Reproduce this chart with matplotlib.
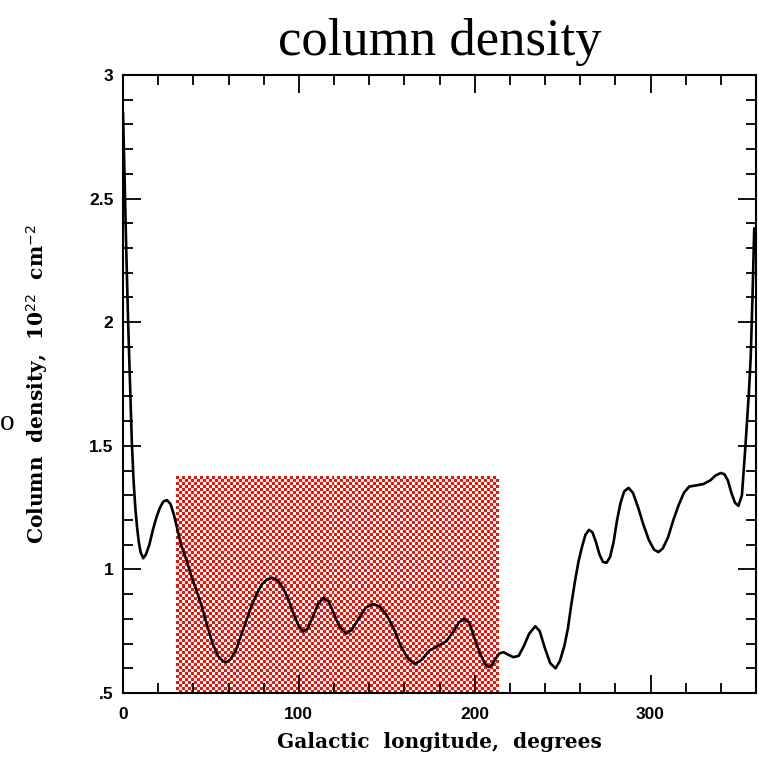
import numpy as np
import matplotlib
matplotlib.use("Agg")
import matplotlib.pyplot as plt
from matplotlib.ticker import MultipleLocator

# ---- data ----
longitude = [0, 1, 2, 3, 4, 5, 6, 7, 8, 9, 10, 11.5, 13, 15, 17, 19, 21, 23, 25, 27, 29, 31, 33,
             36, 39, 42, 45, 48, 51, 54, 57, 59, 61, 64, 67, 70, 73, 76, 79, 82, 85, 88, 91, 94,
             97, 100, 102.5, 105, 108, 111, 114, 117, 120, 123, 127, 130, 134, 138, 142, 146,
             150, 154, 158, 162, 166, 170, 174, 179, 184, 188, 191, 194, 197, 200, 203, 206,
             208, 210, 212, 214, 216.5, 219, 222, 225, 228, 231, 234.5, 237, 240, 243, 246,
             248.5, 251, 253, 255, 257, 259, 261, 263, 265, 267, 269, 271, 273, 275, 277, 279,
             281, 283, 285, 287.5, 290, 293, 296, 299, 302, 304.5, 307, 310, 313, 316, 319, 322,
             326, 330, 334, 337, 340, 342, 344, 346, 348, 350, 352, 354, 356, 357, 358, 359]
column_density = [2.85, 2.55, 2.25, 1.98, 1.75, 1.52, 1.36, 1.25, 1.17, 1.11, 1.07, 1.045, 1.06,
                  1.10, 1.16, 1.21, 1.25, 1.275, 1.28, 1.265, 1.22, 1.16, 1.10,
                  1.04, 0.97, 0.91, 0.845, 0.77, 0.70, 0.65, 0.628, 0.625, 0.635, 0.67, 0.73,
                  0.79, 0.85, 0.90, 0.94, 0.96, 0.966, 0.955, 0.925, 0.88,
                  0.82, 0.77, 0.748, 0.76, 0.81, 0.86, 0.885, 0.87, 0.82, 0.77, 0.74, 0.755,
                  0.80, 0.845, 0.86, 0.85,
                  0.815, 0.76, 0.69, 0.64, 0.617, 0.635, 0.67, 0.69, 0.71, 0.75, 0.785, 0.80,
                  0.785, 0.72, 0.66, 0.617,
                  0.605, 0.615, 0.64, 0.66, 0.665, 0.655, 0.645, 0.65, 0.69, 0.74, 0.77, 0.75,
                  0.68, 0.62, 0.60,
                  0.63, 0.69, 0.76, 0.86, 0.95, 1.03, 1.09, 1.14, 1.16, 1.15, 1.11, 1.06, 1.03,
                  1.027, 1.05, 1.11,
                  1.20, 1.27, 1.315, 1.33, 1.31, 1.25, 1.18, 1.12, 1.08, 1.07, 1.085, 1.13, 1.20,
                  1.26, 1.31, 1.335,
                  1.34, 1.345, 1.36, 1.38, 1.39, 1.385, 1.36, 1.31, 1.27, 1.257, 1.30, 1.50, 1.72,
                  1.86, 2.1, 2.38]

highlight_lon = [30, 213.5]
highlight_top = 1.375

xtick_values = [0, 100, 200, 300]
xtick_labels = ["0", "100", "200", "300"]
ytick_values = [0.5, 1.0, 1.5, 2.0, 2.5, 3.0]
ytick_labels = [".5", "1", "1.5", "2", "2.5", "3"]

title_text = "column density"
xlabel_text = "Galactic  longitude,  degrees"
ylabel_text = r"Column  density,  10$^{22}$  cm$^{-2}$"

# ---- figure ----
W, H, DPI = 759, 762, 100
fig = plt.figure(figsize=(W / DPI, H / DPI), dpi=DPI)
ax = fig.add_axes([123 / W, 1 - 693 / H, (756 - 123) / W, (693 - 75) / H])

ax.set_xlim(0, 360)
ax.set_ylim(0.5, 3.0)

# checkered red highlight box
cell = 3
rect_w_px = (highlight_lon[1] - highlight_lon[0]) / 360 * (756 - 123)
rect_h_px = (highlight_top - 0.5) / 2.5 * (693 - 75)
nx = int(round(rect_w_px / cell))
ny = int(round(rect_h_px / cell))
ii, jj = np.indices((ny, nx))
checker = ((ii + jj) % 2)
img = np.ones((ny, nx, 3))
img[checker == 0] = np.array([1.0, 0.05, 0.0])
ax.imshow(img, extent=[highlight_lon[0], highlight_lon[1], 0.5, highlight_top],
          aspect="auto", interpolation="nearest", zorder=1)

ax.plot(longitude, column_density, color="black", lw=1.9, zorder=3, solid_capstyle="round")

ax.set_xlim(0, 360)
ax.set_ylim(0.5, 3.0)

tick_font = dict(family="Liberation Sans", weight="bold", size=12.5)
ax.set_xticks(xtick_values)
ax.set_xticklabels(xtick_labels, fontdict=tick_font)
ax.set_yticks(ytick_values)
ax.set_yticklabels(ytick_labels, fontdict=tick_font)
ax.xaxis.set_minor_locator(MultipleLocator(20))
ax.yaxis.set_minor_locator(MultipleLocator(0.1))
ax.tick_params(which="both", direction="in", top=True, right=True, width=1.3, color="black")
ax.tick_params(which="major", length=13)
ax.tick_params(which="minor", length=7)
ax.tick_params(axis="x", which="major", pad=10)
ax.tick_params(axis="y", which="major", pad=7)
for s in ax.spines.values():
    s.set_linewidth(1.5)
    s.set_zorder(4)

label_font = dict(family="DejaVu Serif", weight="bold", size=14.5)
ax.set_xlabel(xlabel_text, fontdict=label_font, labelpad=7)
ax.set_ylabel(ylabel_text, fontdict=label_font, labelpad=28)

fig.text(440 / W, 1 - 55 / H, title_text, family="Liberation Serif", size=38,
         ha="center", va="baseline")
fig.text(0 / W, 1 - 430 / H, "o", family="Liberation Serif", size=21,
         ha="left", va="baseline")

fig.savefig("out.png", dpi=DPI)
